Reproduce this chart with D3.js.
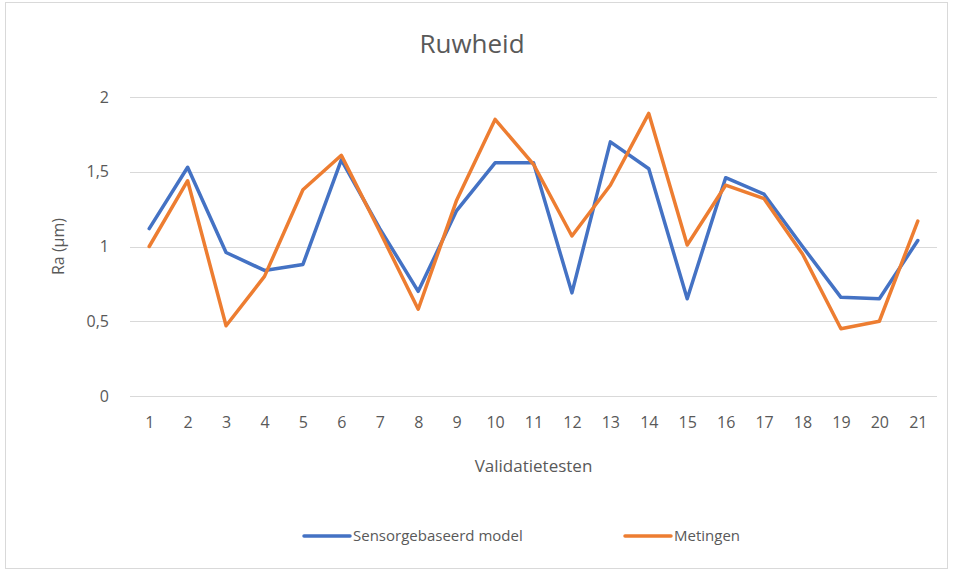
<!DOCTYPE html>
<html>
<head>
<meta charset="utf-8">
<script src="https://cdn.jsdelivr.net/npm/d3@7"></script>
<style>
  body { margin: 0; background: #fff; }
  text { font-family: "Open Sans", "Noto Sans", sans-serif; fill: #595959; }
</style>
</head>
<body>
<div id="chart"></div>
<script>
// categories and series
var tests = d3.range(1, 22).map(String);
var yTicks = [0, 0.5, 1, 1.5, 2];
var model = [1.12, 1.53, 0.96, 0.84, 0.88, 1.58, 1.12, 0.70, 1.24, 1.56, 1.56, 0.69, 1.70, 1.52, 0.65, 1.46, 1.35, 1.00, 0.66, 0.65, 1.04];
var metingen = [1.00, 1.44, 0.47, 0.80, 1.38, 1.61, 1.10, 0.58, 1.31, 1.85, 1.55, 1.07, 1.41, 1.89, 1.01, 1.41, 1.32, 0.95, 0.45, 0.50, 1.17];
var seriesNames = ["Sensorgebaseerd model", "Metingen"];
var colors = ["#4472C4", "#ED7D31"];

var W = 953, H = 572;
var margin = {top: 97, right: 16, bottom: 176, left: 130};
var width = W - margin.left - margin.right,
    height = H - margin.top - margin.bottom;

var svg = d3.select("#chart").append("svg")
    .attr("width", W)
    .attr("height", H);

// outer chart frame
svg.append("rect")
    .attr("x", 5.5).attr("y", 2.5)
    .attr("width", 942).attr("height", 566)
    .attr("fill", "#fff")
    .attr("stroke", "#d9d9d9");

var g = svg.append("g")
    .attr("transform", "translate(" + margin.left + "," + margin.top + ")");

var x = d3.scalePoint()
    .domain(tests)
    .range([0, width])
    .padding(0.5);

var y = d3.scaleLinear()
    .domain([0, 2])
    .range([height, 0]);

// gridlines
g.append("g")
    .selectAll("line")
    .data(yTicks)
    .enter().append("line")
    .attr("x1", 0).attr("x2", width)
    .attr("y1", function(d) { return Math.round(y(d)) + 0.5; })
    .attr("y2", function(d) { return Math.round(y(d)) + 0.5; })
    .attr("stroke", "#d9d9d9")
    .attr("stroke-width", 1);

// y axis labels
var fmt = function(d) { return String(d).replace(".", ","); };
g.append("g")
    .attr("transform", "translate(-18,0)")
    .call(d3.axisLeft(y).tickValues(yTicks).tickFormat(fmt).tickSize(0))
    .call(function(a) { a.select(".domain").remove(); })
    .selectAll("text")
    .style("font-size", "16px")
    .attr("fill", "#595959");

// x axis labels
g.append("g")
    .attr("transform", "translate(0," + (height + 18) + ")")
    .call(d3.axisBottom(x).tickSize(0))
    .call(function(a) { a.select(".domain").remove(); })
    .selectAll("text")
    .style("font-size", "16px")
    .attr("fill", "#595959");

// lines
var line = d3.line()
    .x(function(d, i) { return x(tests[i]); })
    .y(function(d) { return y(d); });

[model, metingen].forEach(function(s, i) {
    g.append("path")
        .datum(s)
        .attr("d", line)
        .attr("fill", "none")
        .attr("stroke", colors[i])
        .attr("stroke-width", 3.5)
        .attr("stroke-linejoin", "round")
        .attr("stroke-linecap", "round");
});

// titles
svg.append("text")
    .attr("x", 472).attr("y", 53)
    .attr("text-anchor", "middle")
    .style("font-size", "26px")
    .text("Ruwheid");

svg.append("text")
    .attr("transform", "translate(64," + (margin.top + height / 2) + ") rotate(-90)")
    .attr("text-anchor", "middle")
    .style("font-size", "16px")
    .text("Ra (µm)");

svg.append("text")
    .attr("x", margin.left + width / 2).attr("y", 472)
    .attr("text-anchor", "middle")
    .style("font-size", "17px")
    .text("Validatietesten");

// legend
var legendX = [304, 625];
seriesNames.forEach(function(name, i) {
    var lg = svg.append("g").attr("transform", "translate(" + legendX[i] + ",536)");
    lg.append("line")
        .attr("x1", 0).attr("x2", 46)
        .attr("stroke", colors[i])
        .attr("stroke-width", 3.5)
        .attr("stroke-linecap", "round");
    lg.append("text")
        .attr("x", 49).attr("y", 5)
        .style("font-size", "15px")
        .text(name);
});
</script>
</body>
</html>
